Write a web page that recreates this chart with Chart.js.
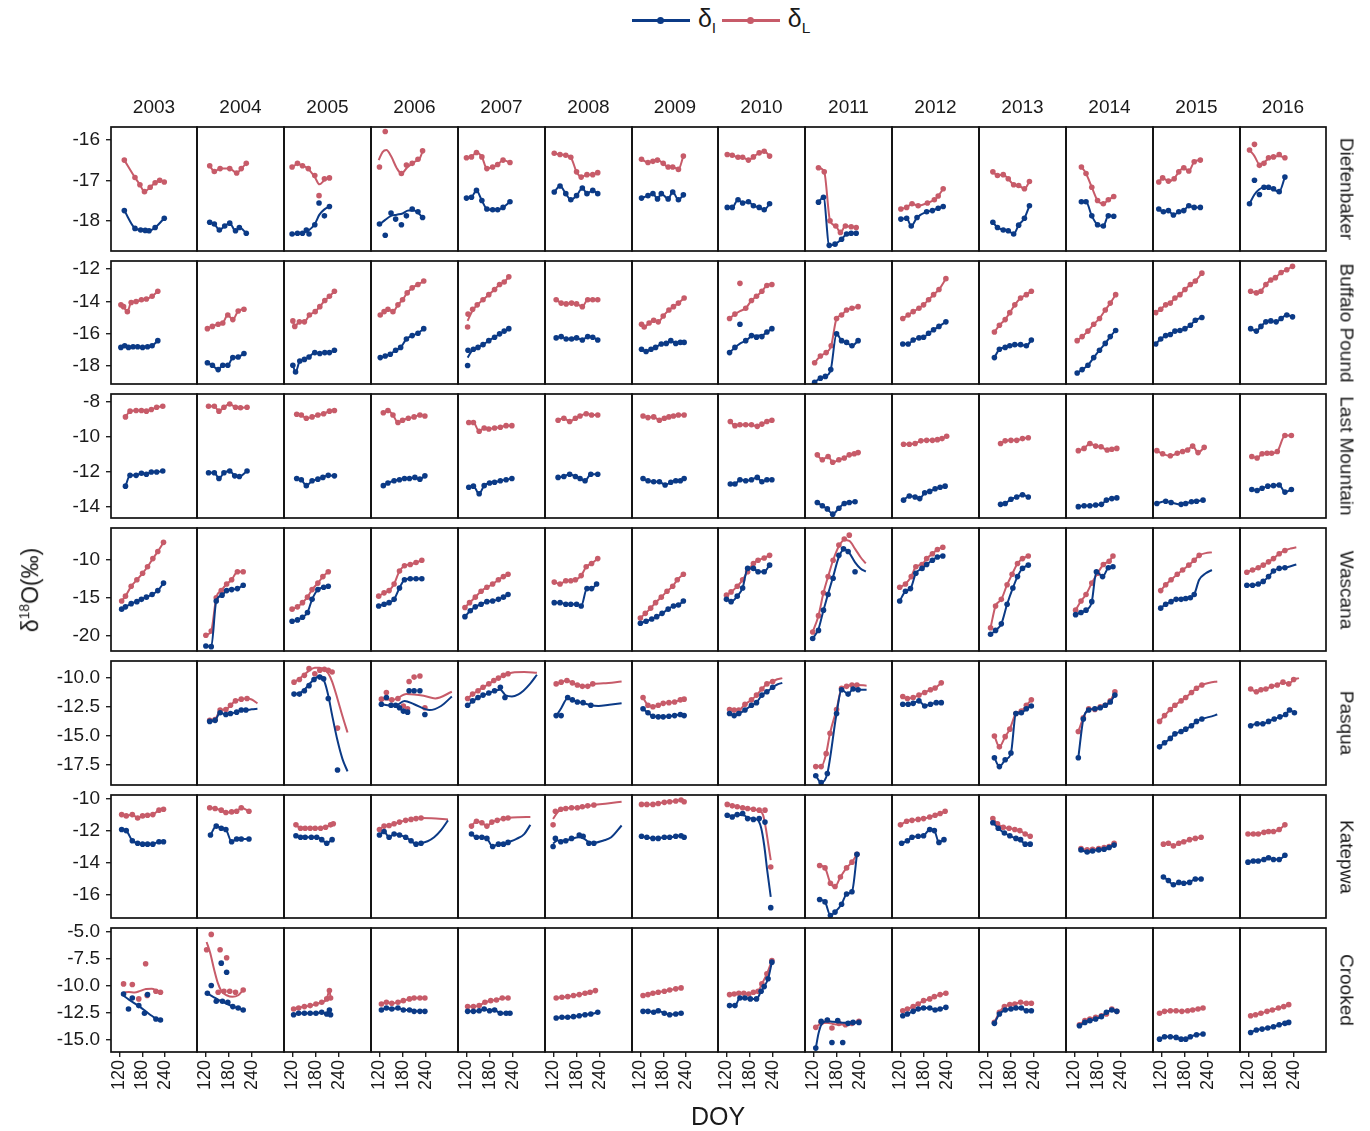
<!DOCTYPE html>
<html>
<head>
<meta charset="utf-8">
<script src="https://cdn.jsdelivr.net/npm/chart.js@4.4.1/dist/chart.umd.min.js"></script>
<style>
  body { margin: 0; background: #fff; font-family: "Liberation Sans", Arial, sans-serif; }
  #wrap { position: relative; width: 1370px; height: 1131px; overflow: hidden; }
  #wrap canvas { position: absolute; }
  .lab { position: absolute; color: #1a1a1a; white-space: nowrap; line-height: 1; }
</style>
</head>
<body>
<div id="wrap"></div>
<script>
// facets
const years = [2003, 2004, 2005, 2006, 2007, 2008, 2009, 2010, 2011, 2012, 2013, 2014, 2015, 2016];
const sites = ["Diefenbaker", "Buffalo Pound", "Last Mountain", "Wascana", "Pasqua", "Katepwa", "Crooked"];

// free y scales per lake (min, max) and tick labels
const yRanges = [[-18.75, -15.68], [-19.1, -11.5], [-14.63, -7.54], [-21.97, -5.92], [-19.24, -8.52], [-17.46, -9.75], [-16.1, -4.63]];
const yTickLabels = [
  ["-16", "-17", "-18"],
  ["-12", "-14", "-16", "-18"],
  ["-8", "-10", "-12", "-14"],
  ["-10", "-15", "-20"],
  ["-10.0", "-12.5", "-15.0", "-17.5"],
  ["-10", "-12", "-14", "-16"],
  ["-5.0", "-7.5", "-10.0", "-12.5", "-15.0"]
];
const xRange = [98, 324];
const xTickLabels = ["120", "180", "240"];

// [DOY, d18O] per year 2003..2016
const diefI = [
  [[133,-17.75],[161,-18.19],[176,-18.23],[188,-18.24],[198,-18.25],[214,-18.17],[238,-17.94]],
  [[131,-18.04],[143,-18.08],[156,-18.23],[170,-18.13],[183,-18.06],[198,-18.25],[208,-18.17],[226,-18.31]],
  [[119,-18.33],[133,-18.31],[146,-18.31],[156,-18.23],[163,-18.33],[178,-18.1],[189,-17.56],[203,-17.88],[216,-17.65]],
  [[120,-18.08],[135,-18.36],[150,-17.81],[162,-17.96],[177,-18.1],[190,-17.88],[205,-17.71],[220,-17.78],[232,-17.92]],
  [[120,-17.44],[133,-17.42],[146,-17.25],[160,-17.5],[173,-17.71],[188,-17.73],[201,-17.73],[215,-17.67],[233,-17.53]],
  [[122,-17.29],[137,-17.14],[152,-17.33],[165,-17.48],[180,-17.38],[195,-17.19],[207,-17.33],[222,-17.25],[235,-17.33]],
  [[123,-17.44],[140,-17.38],[153,-17.33],[165,-17.46],[175,-17.33],[193,-17.46],[205,-17.29],[220,-17.48],[233,-17.36]],
  [[122,-17.67],[135,-17.67],[150,-17.48],[162,-17.56],[177,-17.53],[190,-17.63],[205,-17.67],[218,-17.73],[232,-17.58]],
  [[133,-17.54],[146,-17.42],[161,-18.61],[176,-18.58],[193,-18.46],[206,-18.33],[218,-18.31],[231,-18.31]],
  [[121,-17.96],[136,-17.94],[148,-18.13],[163,-17.92],[188,-17.78],[203,-17.75],[218,-17.69],[231,-17.65]],
  [[134,-18.04],[146,-18.17],[161,-18.23],[174,-18.25],[188,-18.33],[201,-18.11],[216,-17.94],[229,-17.63]],
  [[138,-17.53],[150,-17.53],[165,-17.88],[180,-18.1],[195,-18.13],[208,-17.88],[222,-17.89]],
  [[113,-17.71],[125,-17.78],[138,-17.75],[151,-17.86],[165,-17.78],[178,-17.75],[191,-17.63],[205,-17.67],[221,-17.67]],
  [[123,-17.58],[136,-17.0],[149,-17.35],[161,-17.17],[173,-17.17],[186,-17.21],[201,-17.28],[216,-16.92]]
];
const diefL = [
  [[133,-16.5],[161,-16.93],[174,-17.11],[186,-17.28],[201,-17.17],[214,-17.06],[226,-17.0],[238,-17.04]],
  [[131,-16.64],[143,-16.78],[158,-16.71],[183,-16.71],[201,-16.82],[213,-16.71],[226,-16.58]],
  [[119,-16.67],[133,-16.58],[146,-16.64],[161,-16.71],[178,-16.88],[189,-17.38],[203,-16.96],[216,-16.94]],
  [[120,-16.67],[135,-15.79],[177,-16.83],[190,-16.62],[205,-16.58],[220,-16.48],[232,-16.27]],
  [[120,-16.44],[133,-16.42],[146,-16.31],[160,-16.42],[173,-16.71],[188,-16.67],[201,-16.61],[215,-16.5],[233,-16.56]],
  [[122,-16.33],[137,-16.36],[152,-16.38],[165,-16.43],[180,-16.79],[192,-16.92],[207,-16.86],[222,-16.86],[235,-16.81]],
  [[123,-16.48],[140,-16.56],[153,-16.53],[165,-16.5],[180,-16.58],[193,-16.67],[205,-16.67],[220,-16.73],[233,-16.4]],
  [[122,-16.36],[135,-16.38],[150,-16.43],[162,-16.43],[177,-16.5],[190,-16.42],[205,-16.32],[218,-16.28],[232,-16.4]],
  [[133,-16.69],[148,-16.79],[163,-18.0],[178,-18.13],[190,-18.29],[203,-18.13],[218,-18.15],[231,-18.17]],
  [[121,-17.71],[136,-17.67],[150,-17.58],[166,-17.63],[190,-17.56],[208,-17.48],[218,-17.39],[231,-17.21]],
  [[134,-16.79],[146,-16.88],[161,-16.86],[174,-16.96],[188,-17.11],[201,-17.13],[216,-17.21],[229,-17.03]],
  [[138,-16.67],[150,-16.83],[165,-17.17],[180,-17.5],[195,-17.58],[208,-17.48],[222,-17.4]],
  [[113,-17.04],[123,-16.94],[138,-17.02],[153,-16.96],[165,-16.79],[178,-16.69],[191,-16.77],[205,-16.54],[221,-16.5]],
  [[123,-16.25],[136,-16.11],[149,-16.63],[161,-16.58],[173,-16.44],[186,-16.42],[201,-16.36],[216,-16.44]]
];
const buffI = [
  [[124,-16.84],[134,-16.74],[144,-16.84],[156,-16.8],[168,-16.8],[181,-16.84],[194,-16.8],[206,-16.74],[221,-16.42]],
  [[125,-17.79],[138,-17.94],[153,-18.21],[165,-17.94],[178,-17.94],[191,-17.47],[205,-17.43],[220,-17.22]],
  [[121,-17.94],[128,-18.36],[139,-17.68],[151,-17.58],[163,-17.43],[178,-17.16],[191,-17.22],[204,-17.16],[216,-17.16],[229,-17.01]],
  [[122,-17.47],[135,-17.37],[148,-17.26],[162,-17.01],[175,-16.84],[190,-16.32],[205,-16.11],[220,-15.96],[235,-15.68]],
  [[123,-17.96],[124,-17.01],[138,-16.95],[150,-16.84],[163,-16.67],[178,-16.42],[193,-16.21],[206,-16.0],[218,-15.83],[230,-15.68]],
  [[127,-16.25],[140,-16.17],[153,-16.32],[167,-16.32],[180,-16.25],[195,-16.38],[209,-16.17],[222,-16.21],[235,-16.38]],
  [[123,-16.95],[135,-17.09],[148,-16.95],[160,-16.84],[175,-16.63],[188,-16.59],[200,-16.42],[213,-16.59],[225,-16.53],[235,-16.53]],
  [[128,-17.16],[142,-16.84],[155,-15.41],[170,-16.42],[185,-16.11],[198,-16.21],[212,-16.17],[225,-15.89],[238,-15.68]],
  [[123,-18.99],[138,-18.74],[151,-18.63],[165,-18.21],[180,-16.0],[193,-16.42],[206,-16.53],[220,-16.74],[236,-16.42]],
  [[126,-16.63],[140,-16.63],[153,-16.38],[168,-16.25],[180,-16.21],[193,-15.96],[206,-15.75],[220,-15.54],[238,-15.26]],
  [[138,-17.47],[151,-16.95],[166,-16.84],[178,-16.74],[191,-16.67],[206,-16.67],[221,-16.74],[234,-16.38]],
  [[127,-18.42],[140,-18.21],[155,-17.94],[170,-17.47],[185,-17.01],[200,-16.59],[213,-16.17],[227,-15.79]],
  [[105,-16.63],[118,-16.32],[131,-16.11],[143,-16.04],[155,-15.83],[168,-15.79],[181,-15.68],[195,-15.47],[208,-15.16],[225,-14.99]],
  [[126,-15.68],[141,-15.83],[153,-15.54],[166,-15.26],[179,-15.2],[193,-15.26],[206,-15.05],[221,-14.84],[236,-14.95]]
];
const buffL = [
  [[124,-14.21],[131,-14.32],[141,-14.63],[151,-14.06],[164,-14.0],[178,-13.89],[191,-13.85],[206,-13.68],[221,-13.37]],
  [[125,-15.68],[138,-15.54],[153,-15.41],[165,-15.33],[178,-14.84],[191,-15.12],[205,-14.59],[220,-14.48]],
  [[121,-15.2],[126,-15.54],[138,-15.26],[151,-15.26],[164,-14.84],[179,-14.63],[191,-14.32],[204,-13.94],[216,-13.68],[229,-13.37]],
  [[122,-14.84],[132,-14.63],[142,-14.48],[155,-14.63],[168,-14.21],[180,-13.89],[192,-13.47],[205,-13.16],[220,-12.95],[235,-12.74]],
  [[123,-15.58],[124,-14.78],[136,-14.48],[148,-14.21],[163,-13.89],[178,-13.58],[193,-13.26],[206,-12.95],[218,-12.8],[230,-12.48]],
  [[127,-13.89],[140,-14.1],[153,-14.15],[167,-14.1],[180,-14.15],[195,-14.32],[209,-13.89],[222,-13.89],[235,-13.89]],
  [[123,-15.41],[130,-15.58],[143,-15.33],[155,-15.16],[167,-15.26],[180,-14.9],[195,-14.53],[207,-14.32],[220,-14.1],[235,-13.79]],
  [[128,-15.05],[142,-14.78],[155,-12.88],[170,-14.42],[185,-13.94],[198,-13.68],[212,-13.37],[225,-13.01],[238,-12.95]],
  [[123,-17.79],[138,-17.37],[153,-17.16],[166,-16.74],[180,-15.05],[193,-14.84],[206,-14.53],[220,-14.42],[236,-14.32]],
  [[126,-15.05],[140,-14.84],[153,-14.63],[168,-14.42],[180,-14.21],[193,-13.89],[206,-13.58],[220,-13.26],[238,-12.59]],
  [[138,-15.89],[151,-15.47],[166,-15.12],[178,-14.69],[191,-14.21],[206,-13.79],[221,-13.58],[234,-13.37]],
  [[127,-16.42],[140,-16.17],[155,-15.83],[170,-15.41],[185,-15.05],[200,-14.53],[213,-14.1],[227,-13.58]],
  [[105,-14.69],[118,-14.48],[131,-14.21],[143,-14.1],[155,-13.79],[168,-13.58],[181,-13.26],[195,-12.95],[208,-12.74],[225,-12.25]],
  [[126,-13.37],[141,-13.47],[153,-13.37],[166,-12.95],[179,-12.67],[191,-12.53],[206,-12.21],[221,-12.04],[236,-11.83]]
];
const lastI = [
  [[136,-12.81],[148,-12.19],[164,-12.19],[178,-12.07],[191,-12.13],[204,-12.0],[218,-12.0],[234,-11.94]],
  [[128,-12.04],[143,-12.04],[155,-12.37],[168,-12.04],[183,-11.94],[196,-12.22],[208,-12.26],[228,-11.94]],
  [[131,-12.37],[143,-12.44],[156,-12.78],[171,-12.5],[186,-12.41],[199,-12.31],[213,-12.19],[229,-12.22]],
  [[130,-12.78],[142,-12.63],[158,-12.5],[172,-12.44],[185,-12.37],[198,-12.37],[212,-12.31],[225,-12.41],[238,-12.22]],
  [[126,-12.87],[138,-12.81],[153,-13.24],[166,-12.78],[180,-12.63],[193,-12.59],[208,-12.5],[223,-12.44],[238,-12.37]],
  [[132,-12.31],[147,-12.26],[162,-12.13],[177,-12.26],[189,-12.37],[202,-12.5],[217,-12.13],[235,-12.13]],
  [[127,-12.37],[140,-12.5],[155,-12.56],[170,-12.56],[185,-12.74],[200,-12.59],[213,-12.5],[225,-12.5],[235,-12.37]],
  [[130,-12.69],[142,-12.69],[155,-12.44],[170,-12.5],[185,-12.44],[200,-12.31],[212,-12.56],[225,-12.44],[238,-12.44]],
  [[130,-13.74],[143,-13.93],[156,-14.11],[170,-14.41],[186,-14.07],[200,-13.8],[213,-13.74],[228,-13.7]],
  [[128,-13.61],[143,-13.37],[158,-13.43],[170,-13.52],[183,-13.19],[196,-13.11],[210,-12.96],[223,-12.87],[236,-12.81]],
  [[154,-13.85],[166,-13.8],[181,-13.56],[196,-13.43],[211,-13.3],[226,-13.43]],
  [[130,-13.98],[145,-13.93],[160,-13.93],[175,-13.89],[190,-13.85],[203,-13.61],[217,-13.52],[230,-13.48]],
  [[108,-13.8],[131,-13.67],[145,-13.74],[171,-13.85],[183,-13.8],[198,-13.7],[211,-13.67],[228,-13.61]],
  [[129,-13.0],[143,-13.06],[156,-12.93],[171,-12.81],[186,-12.78],[201,-12.74],[216,-13.15],[233,-13.0]]
];
const lastL = [
  [[136,-8.85],[148,-8.52],[164,-8.48],[178,-8.48],[191,-8.52],[204,-8.43],[218,-8.3],[234,-8.24]],
  [[128,-8.24],[143,-8.24],[155,-8.52],[168,-8.3],[183,-8.11],[198,-8.3],[211,-8.33],[228,-8.3]],
  [[131,-8.7],[143,-8.74],[156,-8.93],[171,-8.85],[186,-8.74],[201,-8.67],[216,-8.52],[229,-8.48]],
  [[130,-8.61],[142,-8.48],[155,-8.74],[168,-9.17],[180,-9.04],[195,-8.93],[210,-8.85],[225,-8.74],[238,-8.8]],
  [[126,-9.17],[138,-9.17],[153,-9.67],[166,-9.48],[178,-9.54],[193,-9.48],[208,-9.44],[223,-9.35],[238,-9.35]],
  [[132,-9.04],[147,-8.93],[162,-9.11],[177,-8.93],[189,-8.8],[205,-8.67],[219,-8.74],[235,-8.74]],
  [[127,-8.8],[140,-8.89],[155,-8.85],[170,-9.04],[183,-8.93],[195,-8.85],[207,-8.8],[220,-8.74],[235,-8.74]],
  [[130,-9.11],[142,-9.35],[155,-9.3],[170,-9.3],[185,-9.3],[200,-9.39],[212,-9.26],[225,-9.11],[238,-9.04]],
  [[130,-11.02],[143,-11.3],[158,-11.11],[170,-11.44],[186,-11.3],[200,-11.2],[213,-11.02],[226,-10.96],[236,-10.89]],
  [[128,-10.41],[143,-10.41],[158,-10.37],[173,-10.22],[188,-10.19],[203,-10.19],[216,-10.15],[228,-10.09],[240,-9.96]],
  [[154,-10.37],[166,-10.22],[181,-10.19],[196,-10.19],[211,-10.09],[226,-10.04]],
  [[130,-10.78],[145,-10.65],[160,-10.37],[175,-10.52],[189,-10.56],[205,-10.74],[217,-10.7],[230,-10.65]],
  [[108,-10.78],[123,-10.96],[143,-11.07],[161,-10.93],[175,-10.83],[188,-10.74],[201,-10.52],[215,-10.89],[231,-10.59]],
  [[129,-11.11],[143,-11.2],[156,-10.96],[169,-10.93],[181,-10.93],[196,-10.83],[216,-9.91],[233,-9.91]]
];
const wascI = [
  [[126,-16.51],[136,-16.21],[151,-15.79],[166,-15.53],[178,-15.23],[191,-14.94],[206,-14.6],[221,-14.09],[236,-13.11]],
  [[121,-21.32],[135,-21.4],[148,-15.45],[163,-14.68],[175,-14.09],[188,-13.96],[203,-13.83],[218,-13.4]],
  [[119,-18.09],[133,-17.91],[146,-17.57],[159,-16.94],[171,-15.23],[186,-13.96],[201,-13.66],[213,-13.53]],
  [[118,-16.09],[132,-15.87],[145,-15.66],[158,-15.23],[172,-13.74],[185,-12.68],[200,-12.55],[215,-12.55],[230,-12.55]],
  [[116,-17.49],[130,-16.72],[143,-16.21],[158,-15.87],[173,-15.53],[188,-15.45],[203,-15.23],[216,-14.94],[228,-14.6]],
  [[122,-15.66],[137,-15.66],[152,-15.87],[165,-15.87],[180,-15.87],[192,-16.09],[207,-13.83],[219,-13.83],[232,-13.23]],
  [[120,-18.34],[135,-18.09],[150,-17.79],[163,-17.49],[177,-17.06],[193,-16.51],[207,-16.09],[220,-15.96],[233,-15.45]],
  [[120,-15.23],[132,-15.53],[148,-14.81],[162,-13.74],[175,-11.19],[190,-11.19],[202,-11.62],[218,-11.62],[232,-10.77]],
  [[118,-20.34],[133,-19.28],[146,-16.64],[158,-14.6],[171,-12.47],[186,-9.49],[198,-8.64],[210,-8.98],[228,-11.62]],
  [[118,-15.45],[133,-14.17],[146,-13.83],[160,-11.83],[176,-11.19],[188,-10.68],[203,-10.13],[216,-9.7],[230,-9.57]],
  [[128,-19.79],[141,-19.28],[156,-18.43],[171,-15.87],[186,-13.74],[198,-12.26],[211,-11.19],[226,-10.77]],
  [[123,-17.23],[137,-16.94],[150,-16.64],[165,-15.53],[177,-11.62],[193,-12.26],[208,-11.11],[220,-10.98]],
  [[118,-16.38],[131,-15.87],[145,-15.53],[158,-15.23],[171,-15.23],[183,-15.11],[195,-15.02],[205,-14.6]],
  [[116,-13.4],[131,-13.4],[146,-13.23],[159,-12.89],[173,-12.26],[186,-11.53],[201,-11.19],[216,-11.11]]
];
const wascL = [
  [[126,-15.45],[136,-14.81],[151,-13.53],[166,-12.68],[181,-11.83],[194,-10.98],[208,-9.91],[221,-8.98],[236,-7.79]],
  [[121,-19.91],[135,-19.36],[148,-15.02],[161,-14.09],[175,-13.23],[188,-12.68],[203,-11.62],[218,-11.62]],
  [[119,-16.51],[133,-16.21],[146,-15.66],[159,-14.94],[171,-13.96],[186,-13.11],[199,-12.26],[213,-11.62]],
  [[118,-14.81],[132,-14.38],[145,-14.09],[158,-13.23],[172,-11.53],[185,-10.85],[200,-10.68],[215,-10.43],[230,-10.13]],
  [[116,-16.3],[128,-15.66],[143,-14.94],[158,-14.17],[173,-13.66],[188,-13.23],[203,-12.68],[216,-12.26],[228,-11.96]],
  [[122,-12.98],[137,-13.23],[152,-12.81],[165,-12.81],[177,-12.68],[192,-12.13],[205,-10.98],[219,-10.55],[235,-9.91]],
  [[120,-17.66],[133,-17.06],[147,-16.38],[160,-15.66],[175,-14.94],[190,-14.17],[205,-13.53],[217,-12.68],[233,-11.96]],
  [[120,-14.68],[132,-14.26],[148,-13.53],[162,-12.68],[175,-11.62],[190,-10.55],[202,-10.13],[218,-9.83],[232,-9.49]],
  [[118,-19.49],[133,-17.36],[146,-14.38],[158,-12.26],[171,-10.13],[186,-8.13],[200,-7.36],[213,-6.85]],
  [[118,-13.66],[133,-13.23],[148,-12.26],[160,-10.98],[176,-10.68],[188,-9.91],[203,-9.28],[216,-8.72],[230,-8.43]],
  [[128,-18.94],[141,-16.09],[156,-15.23],[171,-13.32],[184,-11.96],[198,-10.55],[211,-9.91],[226,-9.57]],
  [[123,-16.64],[137,-15.45],[150,-14.6],[165,-13.11],[180,-11.83],[195,-10.68],[210,-10.26],[220,-9.57]],
  [[118,-14.09],[131,-13.32],[145,-12.68],[161,-11.96],[175,-11.4],[191,-10.77],[205,-10.13],[218,-9.49]],
  [[116,-11.7],[131,-11.4],[146,-11.11],[159,-10.77],[173,-10.34],[186,-9.91],[201,-9.28],[216,-8.85]]
];
const pasqI = [
  [],
  [[131,-13.74],[145,-13.65],[158,-13.0],[173,-13.15],[185,-13.06],[201,-12.94],[213,-12.76],[225,-12.76]],
  [[124,-11.38],[138,-11.38],[151,-11.09],[163,-10.65],[176,-10.12],[191,-9.91],[201,-10.06],[213,-11.76],[237,-17.94]],
  [[125,-12.26],[138,-11.68],[150,-12.35],[162,-12.35],[172,-12.56],[182,-12.85],[193,-12.94],[197,-11.09],[210,-11.09],[225,-11.09],[238,-13.15]],
  [[123,-12.35],[136,-11.97],[150,-11.68],[163,-11.47],[178,-11.29],[193,-11.09],[208,-10.79],[220,-11.68]],
  [[127,-13.24],[140,-13.24],[157,-11.68],[169,-11.88],[182,-12.06],[197,-12.12],[217,-12.35]],
  [[127,-12.65],[140,-13.0],[153,-13.29],[167,-13.35],[180,-13.35],[195,-13.29],[210,-13.24],[225,-13.15],[235,-13.24]],
  [[128,-13.06],[140,-13.24],[152,-13.06],[168,-12.76],[185,-12.35],[198,-12.12],[212,-11.47],[225,-11.18],[240,-10.79]],
  [[126,-18.44],[140,-19.03],[156,-18.24],[180,-13.06],[193,-11.0],[210,-11.38],[223,-10.94],[236,-11.0]],
  [[126,-12.26],[140,-12.26],[153,-12.18],[168,-11.97],[183,-12.41],[198,-12.26],[213,-12.12],[226,-12.12]],
  [[138,-16.88],[151,-17.65],[166,-17.06],[181,-16.47],[194,-13.06],[208,-13.0],[221,-12.65],[234,-12.41]],
  [[130,-16.88],[143,-13.53],[157,-12.76],[173,-12.65],[187,-12.56],[200,-12.35],[213,-12.06],[225,-11.47]],
  [[115,-15.94],[128,-15.59],[143,-15.21],[155,-14.82],[171,-14.62],[183,-14.41],[198,-14.12],[211,-13.74],[225,-13.53]],
  [[126,-14.12],[143,-13.94],[158,-13.94],[173,-13.74],[188,-13.53],[203,-13.35],[218,-13.15],[228,-12.76],[241,-13.0]]
];
const pasqL = [
  [],
  [[131,-13.65],[145,-13.59],[158,-12.76],[173,-12.71],[185,-12.35],[198,-11.97],[213,-11.82],[228,-11.76]],
  [[124,-10.35],[138,-10.12],[151,-9.76],[163,-9.18],[178,-9.62],[191,-9.32],[203,-9.24],[213,-9.32],[223,-9.47],[237,-14.32]],
  [[125,-11.82],[138,-11.24],[152,-11.88],[168,-11.76],[182,-12.41],[193,-12.65],[197,-10.29],[210,-9.91],[225,-9.82],[238,-12.56]],
  [[123,-11.76],[136,-11.38],[150,-11.09],[163,-10.79],[178,-10.5],[191,-10.21],[203,-10.0],[216,-9.76],[228,-9.62]],
  [[127,-10.5],[140,-10.35],[155,-10.21],[169,-10.41],[182,-10.59],[195,-10.71],[209,-10.71],[222,-10.5]],
  [[127,-11.68],[140,-12.35],[153,-12.47],[167,-12.35],[180,-12.18],[195,-12.12],[210,-12.06],[225,-11.88],[235,-11.82]],
  [[128,-12.71],[140,-12.76],[152,-12.76],[168,-12.26],[185,-11.88],[198,-11.47],[212,-10.94],[225,-10.5],[240,-10.29]],
  [[126,-17.65],[140,-17.65],[153,-16.53],[163,-14.76],[180,-12.71],[193,-10.88],[206,-10.71],[220,-10.59],[233,-10.59]],
  [[126,-11.59],[138,-11.76],[153,-11.68],[168,-11.47],[183,-11.24],[198,-11.0],[210,-10.85],[226,-10.41]],
  [[138,-15.0],[151,-15.94],[166,-15.06],[178,-14.41],[194,-13.06],[208,-12.85],[221,-12.35],[234,-11.88]],
  [[130,-14.62],[143,-13.44],[157,-12.65],[173,-12.71],[187,-12.47],[200,-12.35],[213,-11.97],[225,-11.18]],
  [[115,-13.74],[128,-13.24],[143,-12.71],[155,-12.35],[171,-11.97],[183,-11.68],[198,-11.24],[211,-10.88],[225,-10.59]],
  [[126,-10.94],[141,-11.18],[153,-11.0],[166,-10.94],[181,-10.71],[196,-10.59],[211,-10.35],[226,-10.5],[239,-10.12]]
];
const katI = [
  [[126,-11.91],[138,-11.98],[154,-12.62],[168,-12.77],[181,-12.83],[194,-12.83],[208,-12.83],[224,-12.68],[236,-12.68]],
  [[133,-12.26],[148,-11.7],[161,-11.83],[173,-11.91],[188,-12.68],[201,-12.51],[213,-12.51],[233,-12.51]],
  [[129,-12.3],[141,-12.4],[153,-12.4],[169,-12.4],[183,-12.4],[196,-12.55],[209,-12.77],[223,-12.55]],
  [[120,-12.26],[132,-12.04],[145,-12.4],[158,-12.19],[172,-12.26],[188,-12.4],[202,-12.62],[215,-12.83],[228,-12.77]],
  [[133,-12.19],[146,-12.4],[160,-12.4],[173,-12.47],[188,-12.98],[203,-12.83],[216,-12.83],[228,-12.72]],
  [[119,-12.98],[125,-12.47],[139,-12.68],[152,-12.62],[167,-12.47],[187,-12.26],[197,-12.34],[212,-12.77],[225,-12.77]],
  [[123,-12.34],[137,-12.4],[153,-12.47],[167,-12.47],[183,-12.4],[197,-12.4],[213,-12.34],[227,-12.3],[235,-12.4]],
  [[122,-11.02],[135,-11.13],[148,-10.98],[162,-10.91],[175,-11.23],[190,-11.28],[205,-11.23],[220,-11.45],[235,-16.81]],
  [[136,-16.3],[150,-16.45],[164,-17.3],[176,-17.09],[193,-16.6],[206,-15.96],[220,-15.81],[233,-13.47]],
  [[123,-12.77],[138,-12.62],[150,-12.4],[166,-12.34],[180,-12.3],[196,-11.91],[208,-11.98],[220,-12.72],[233,-12.55]],
  [[134,-11.49],[148,-11.83],[164,-12.13],[178,-12.3],[194,-12.47],[206,-12.55],[218,-12.83],[231,-12.83]],
  [[137,-13.19],[153,-13.32],[167,-13.26],[183,-13.19],[197,-13.15],[210,-13.04],[223,-12.89]],
  [[125,-14.89],[138,-15.11],[151,-15.38],[165,-15.23],[178,-15.28],[193,-15.23],[208,-15.02],[223,-15.02]],
  [[119,-13.96],[133,-13.89],[146,-13.89],[161,-13.79],[173,-13.68],[186,-13.79],[201,-13.79],[216,-13.53]]
];
const katL = [
  [[126,-10.98],[138,-11.06],[154,-10.98],[168,-11.19],[181,-11.06],[194,-11.02],[208,-10.98],[224,-10.7],[236,-10.64]],
  [[131,-10.55],[145,-10.6],[161,-10.7],[173,-10.85],[188,-10.81],[201,-10.77],[213,-10.55],[233,-10.77]],
  [[129,-11.62],[141,-11.83],[153,-11.83],[166,-11.83],[179,-11.83],[193,-11.83],[206,-11.77],[219,-11.62],[226,-11.55]],
  [[120,-11.91],[132,-11.7],[145,-11.66],[158,-11.55],[172,-11.45],[188,-11.34],[202,-11.28],[215,-11.23],[228,-11.19]],
  [[133,-11.7],[146,-11.4],[160,-11.49],[173,-11.7],[186,-11.45],[200,-11.34],[216,-11.23],[228,-11.19]],
  [[119,-11.62],[125,-10.77],[139,-10.64],[152,-10.6],[167,-10.55],[182,-10.55],[195,-10.49],[209,-10.43],[225,-10.38]],
  [[123,-10.34],[137,-10.34],[153,-10.34],[167,-10.28],[183,-10.21],[197,-10.17],[213,-10.13],[227,-10.06],[235,-10.17]],
  [[122,-10.34],[135,-10.43],[148,-10.49],[162,-10.55],[175,-10.6],[190,-10.64],[205,-10.7],[220,-10.7],[235,-14.26]],
  [[136,-14.17],[150,-14.32],[164,-15.28],[176,-15.49],[190,-14.89],[206,-14.32],[220,-13.96],[233,-13.47]],
  [[120,-11.62],[136,-11.4],[150,-11.34],[166,-11.28],[180,-11.23],[196,-11.13],[210,-11.02],[223,-10.91],[236,-10.77]],
  [[134,-11.23],[146,-11.55],[161,-11.77],[176,-11.83],[191,-11.91],[204,-11.98],[218,-12.19],[231,-12.34]],
  [[137,-13.11],[153,-13.19],[167,-13.15],[183,-13.11],[197,-13.04],[210,-12.98],[223,-12.77]],
  [[125,-12.83],[138,-12.77],[151,-12.94],[165,-12.77],[178,-12.68],[193,-12.55],[208,-12.47],[223,-12.4]],
  [[119,-12.19],[133,-12.19],[146,-12.19],[161,-12.09],[173,-12.04],[186,-12.04],[201,-11.91],[216,-11.62]]
];
const crookI = [
  [[131,-10.73],[144,-12.12],[154,-11.1],[171,-11.81],[186,-12.52],[194,-10.79],[216,-13.05],[228,-13.14]],
  [[125,-10.67],[135,-9.95],[148,-11.41],[161,-7.88],[164,-11.41],[175,-8.72],[178,-11.5],[191,-11.9],[205,-12.03],[218,-12.21]],
  [[123,-12.65],[136,-12.52],[151,-12.52],[166,-12.52],[181,-12.52],[196,-12.43],[209,-12.59],[216,-12.21],[219,-12.65]],
  [[125,-12.21],[138,-12.03],[152,-12.12],[168,-12.03],[182,-12.21],[198,-12.21],[210,-12.34],[225,-12.34],[238,-12.34]],
  [[123,-12.34],[138,-12.34],[153,-12.28],[166,-12.12],[180,-12.28],[193,-12.21],[208,-12.52],[223,-12.52],[233,-12.52]],
  [[127,-12.96],[142,-12.89],[157,-12.89],[172,-12.83],[187,-12.74],[202,-12.65],[217,-12.59],[235,-12.43]],
  [[127,-12.34],[140,-12.34],[155,-12.43],[167,-12.28],[183,-12.52],[197,-12.65],[213,-12.59],[227,-12.52]],
  [[128,-11.81],[142,-11.81],[155,-11.1],[168,-11.1],[182,-11.19],[198,-11.19],[210,-10.48],[218,-10.05],[228,-9.33],[238,-7.79]],
  [[126,-15.74],[140,-13.27],[156,-13.14],[168,-15.22],[183,-13.2],[196,-15.22],[210,-13.45],[223,-13.36],[238,-13.36]],
  [[126,-12.74],[138,-12.59],[153,-12.34],[166,-12.12],[180,-12.03],[196,-12.03],[210,-12.21],[223,-12.12],[238,-11.97]],
  [[138,-13.45],[151,-12.59],[166,-12.21],[181,-12.12],[194,-12.03],[208,-12.03],[221,-12.28],[234,-12.28]],
  [[133,-13.67],[147,-13.36],[160,-13.2],[175,-13.05],[190,-12.83],[203,-12.43],[217,-12.21],[230,-12.34]],
  [[115,-14.91],[128,-14.69],[143,-14.69],[158,-14.75],[171,-14.91],[183,-14.91],[195,-14.69],[211,-14.5],[228,-14.44]],
  [[126,-14.29],[141,-14.07],[156,-13.98],[171,-13.88],[186,-13.76],[201,-13.58],[216,-13.45],[226,-13.36]]
];
const crookL = [
  [[131,-9.8],[154,-9.86],[171,-11.19],[189,-7.94],[193,-10.88],[216,-10.48],[228,-10.57]],
  [[123,-6.64],[135,-5.22],[153,-10.57],[158,-6.64],[168,-10.48],[175,-7.38],[183,-10.48],[198,-10.57],[218,-10.36]],
  [[123,-12.12],[136,-12.03],[151,-11.9],[166,-11.81],[181,-11.66],[196,-11.5],[209,-11.19],[216,-10.42],[219,-11.1]],
  [[125,-11.66],[138,-11.5],[152,-11.59],[168,-11.5],[182,-11.35],[198,-11.19],[210,-11.1],[225,-11.1],[238,-11.1]],
  [[123,-11.9],[138,-11.9],[153,-11.81],[168,-11.5],[183,-11.35],[198,-11.29],[213,-11.1],[228,-11.1]],
  [[127,-11.1],[142,-11.04],[157,-10.98],[172,-10.88],[187,-10.79],[202,-10.67],[215,-10.57],[229,-10.42]],
  [[127,-10.88],[140,-10.79],[153,-10.67],[167,-10.57],[183,-10.48],[197,-10.36],[213,-10.26],[227,-10.17]],
  [[128,-10.79],[140,-10.73],[152,-10.67],[165,-10.67],[178,-10.73],[190,-10.57],[202,-10.48],[212,-9.8],[225,-8.87],[238,-7.63]],
  [[126,-13.82],[140,-13.36],[156,-13.2],[168,-13.88],[186,-13.45],[203,-13.58],[220,-13.45],[238,-13.27]],
  [[126,-12.28],[138,-12.12],[153,-11.9],[166,-11.66],[180,-11.35],[196,-11.19],[208,-10.98],[223,-10.79],[238,-10.67]],
  [[138,-13.36],[151,-12.43],[164,-11.9],[178,-11.72],[191,-11.66],[206,-11.5],[221,-11.59],[234,-11.59]],
  [[133,-13.58],[147,-13.2],[160,-13.05],[175,-12.89],[190,-12.74],[203,-12.59],[217,-12.12],[230,-12.34]],
  [[115,-12.52],[128,-12.34],[143,-12.28],[158,-12.28],[173,-12.34],[188,-12.28],[201,-12.21],[215,-12.12],[228,-12.03]],
  [[126,-12.74],[139,-12.65],[153,-12.52],[169,-12.34],[183,-12.21],[199,-12.03],[213,-11.9],[226,-11.72]]
];

// smoothed curves that differ from the points: "line" replaces, "tail" extends
const fitLines = [
  ["Diefenbaker", 2005, "L", "line", [[119,-16.67],[133,-16.6],[146,-16.63],[161,-16.72],[178,-16.92],[190,-17.1],[203,-17.0],[216,-16.94]]],
  ["Diefenbaker", 2005, "I", "line", [[119,-18.33],[133,-18.32],[146,-18.3],[161,-18.25],[178,-18.08],[190,-17.85],[203,-17.72],[216,-17.65]]],
  ["Diefenbaker", 2006, "L", "line", [[118,-16.5],[128,-16.3],[138,-16.25],[150,-16.4],[165,-16.7],[177,-16.83],[192,-16.68],[210,-16.55],[225,-16.45],[232,-16.28]]],
  ["Diefenbaker", 2006, "I", "line", [[120,-18.1],[135,-17.98],[150,-17.88],[165,-17.85],[180,-17.82],[195,-17.75],[210,-17.75],[222,-17.82],[232,-17.92]]],
  ["Diefenbaker", 2016, "I", "line", [[123,-17.58],[136,-17.35],[149,-17.22],[161,-17.18],[173,-17.2],[186,-17.23],[201,-17.28],[216,-16.92]]],
  ["Diefenbaker", 2016, "L", "line", [[123,-16.25],[136,-16.4],[149,-16.6],[161,-16.56],[173,-16.46],[186,-16.42],[201,-16.4],[216,-16.44]]],
  ["Buffalo Pound", 2007, "L", "line", [[123,-15.2],[136,-14.55],[148,-14.21],[163,-13.89],[178,-13.58],[193,-13.26],[206,-12.95],[218,-12.8],[230,-12.48]]],
  ["Buffalo Pound", 2007, "I", "line", [[123,-17.47],[136,-16.98],[148,-16.84],[163,-16.67],[178,-16.42],[193,-16.21],[206,-16.0],[218,-15.83],[230,-15.68]]],
  ["Buffalo Pound", 2010, "L", "line", [[128,-15.05],[142,-14.78],[155,-14.6],[170,-14.42],[185,-13.94],[198,-13.68],[212,-13.37],[225,-13.01],[238,-12.95]]],
  ["Buffalo Pound", 2010, "I", "line", [[128,-17.16],[142,-16.84],[155,-16.6],[170,-16.42],[185,-16.15],[198,-16.1],[212,-16.1],[225,-15.89],[238,-15.68]]],
  ["Wascana", 2011, "L", "line", [[118,-19.49],[133,-17.36],[146,-14.38],[158,-12.26],[171,-10.13],[186,-8.3],[200,-7.5],[213,-7.6],[228,-8.64],[242,-9.7],[256,-10.55]]],
  ["Wascana", 2011, "I", "line", [[118,-20.34],[133,-19.1],[146,-16.64],[158,-14.5],[171,-12.3],[186,-9.7],[200,-8.7],[212,-9.1],[228,-10.4],[242,-11.2],[256,-11.62]]],
  ["Wascana", 2015, "I", "tail", [[218,-12.68],[235,-11.83],[251,-11.4]]],
  ["Wascana", 2015, "L", "tail", [[235,-9.2],[251,-9.1]]],
  ["Wascana", 2016, "I", "tail", [[231,-10.9],[246,-10.68]]],
  ["Wascana", 2016, "L", "tail", [[231,-8.6],[246,-8.43]]],
  ["Pasqua", 2004, "I", "tail", [[240,-12.7],[255,-12.65]]],
  ["Pasqua", 2004, "L", "tail", [[240,-11.85],[255,-12.18]]],
  ["Pasqua", 2005, "L", "line", [[124,-10.35],[138,-10.05],[151,-9.7],[163,-9.35],[178,-9.1],[191,-9.1],[203,-9.3],[213,-9.6],[223,-10.3],[237,-11.8],[250,-13.3],[263,-14.7]]],
  ["Pasqua", 2005, "I", "line", [[124,-11.38],[138,-11.3],[151,-11.0],[163,-10.55],[178,-10.05],[191,-9.8],[203,-10.3],[213,-11.5],[223,-13.2],[237,-15.4],[250,-17.0],[263,-18.06]]],
  ["Pasqua", 2006, "L", "line", [[125,-11.82],[155,-11.88],[190,-11.38],[235,-11.53],[265,-11.76],[308,-11.18]]],
  ["Pasqua", 2006, "I", "line", [[125,-12.26],[160,-12.41],[185,-11.97],[210,-12.26],[250,-12.76],[280,-12.41],[308,-11.59]]],
  ["Pasqua", 2007, "I", "line", [[123,-12.35],[136,-12.0],[150,-11.7],[163,-11.5],[178,-11.3],[193,-11.1],[208,-11.0],[222,-11.5],[238,-11.59],[255,-11.4],[268,-11.09],[285,-10.5],[303,-9.71]]],
  ["Pasqua", 2007, "L", "tail", [[245,-9.5],[270,-9.47],[303,-9.53]]],
  ["Pasqua", 2008, "I", "line", [[127,-13.3],[140,-12.6],[157,-11.75],[169,-11.9],[182,-12.05],[197,-12.15],[217,-12.35],[237,-12.41],[265,-12.3],[297,-12.18]]],
  ["Pasqua", 2008, "L", "tail", [[250,-10.45],[297,-10.29]]],
  ["Pasqua", 2010, "I", "tail", [[252,-10.55],[265,-10.41]]],
  ["Pasqua", 2010, "L", "tail", [[252,-10.1],[265,-10.0]]],
  ["Pasqua", 2011, "I", "tail", [[258,-11.0]]],
  ["Pasqua", 2011, "L", "tail", [[258,-10.65]]],
  ["Pasqua", 2015, "I", "tail", [[245,-13.35],[265,-13.15]]],
  ["Pasqua", 2015, "L", "tail", [[245,-10.4],[265,-10.29]]],
  ["Pasqua", 2016, "L", "tail", [[253,-10.0]]],
  ["Katepwa", 2006, "I", "tail", [[245,-12.65],[262,-12.4],[280,-11.95],[298,-11.34]]],
  ["Katepwa", 2006, "L", "tail", [[255,-11.2],[298,-11.28]]],
  ["Katepwa", 2007, "I", "tail", [[250,-12.5],[270,-12.2],[286,-11.62]]],
  ["Katepwa", 2007, "L", "tail", [[255,-11.15],[286,-11.13]]],
  ["Katepwa", 2008, "L", "line", [[119,-11.25],[130,-10.85],[139,-10.68],[152,-10.6],[167,-10.55],[182,-10.54],[195,-10.5],[209,-10.44],[225,-10.38],[260,-10.28],[297,-10.17]]],
  ["Katepwa", 2008, "I", "line", [[119,-12.8],[130,-12.6],[139,-12.62],[152,-12.6],[167,-12.5],[185,-12.4],[200,-12.5],[212,-12.7],[225,-12.75],[250,-12.6],[270,-12.4],[297,-11.66]]],
  ["Katepwa", 2010, "L", "line", [[122,-10.34],[135,-10.42],[148,-10.48],[162,-10.55],[175,-10.6],[190,-10.64],[205,-10.75],[215,-11.0],[222,-11.8],[229,-12.9],[235,-13.83]]],
  ["Katepwa", 2010, "I", "line", [[122,-11.02],[135,-11.05],[148,-11.0],[162,-11.0],[175,-11.15],[190,-11.25],[200,-11.3],[210,-11.8],[218,-12.9],[226,-14.5],[235,-16.13]]],
  ["Crooked", 2003, "L", "line", [[131,-10.6],[145,-10.55],[160,-10.6],[175,-10.45],[190,-10.27],[205,-10.25],[218,-10.4],[231,-10.6]]],
  ["Crooked", 2003, "I", "line", [[131,-10.9],[145,-11.25],[160,-11.6],[175,-11.95],[190,-12.35],[205,-12.75],[218,-13.05],[228,-13.15]]],
  ["Crooked", 2004, "L", "line", [[123,-5.93],[132,-6.9],[142,-8.4],[152,-9.7],[162,-10.5],[175,-10.85],[190,-11.0],[205,-10.85],[218,-10.36]]],
  ["Crooked", 2004, "I", "line", [[125,-10.7],[140,-11.0],[155,-11.3],[170,-11.55],[185,-11.8],[200,-12.0],[218,-12.24]]],
  ["Crooked", 2011, "L", "line", [[126,-13.75],[140,-13.5],[156,-13.4],[170,-13.5],[186,-13.55],[203,-13.55],[220,-13.45],[238,-13.3]]],
  ["Crooked", 2011, "I", "line", [[126,-15.74],[133,-14.4],[140,-13.6],[156,-13.25],[170,-13.3],[185,-13.35],[200,-13.4],[215,-13.4],[238,-13.36]]]
];

const seriesI = [diefI, buffI, lastI, wascI, pasqI, katI, crookI];
const seriesL = [diefL, buffL, lastL, wascL, pasqL, katL, crookL];

const BLUE = "#0b3a86";
const PINK = "#c75b69";
const FONT = "'Liberation Sans', Arial, sans-serif";

// panel geometry
const PX0 = 110.5, PW = 86.85, PY0 = 127, PH = 133.5, PANEL_H = 123.5;
const P = 22, YW = 66, XH = 46;

const wrap = document.getElementById("wrap");

function xy(arr) {
  return arr.map(p => ({ x: p[0], y: p[1] })).sort((a, b) => a.x - b.x);
}

function curveFor(site, year, key, pts) {
  const f = fitLines.find(e => e[0] === site && e[1] === year && e[2] === key);
  if (!f) return pts;
  return f[3] === "tail" ? pts.concat(f[4]) : f[4];
}

const panelBorder = {
  id: "panelBorder",
  afterDraw(chart) {
    const { ctx, chartArea: a } = chart;
    ctx.save();
    ctx.strokeStyle = "#111";
    ctx.lineWidth = 1.7;
    ctx.strokeRect(a.left, a.top, a.right - a.left, a.bottom - a.top);
    ctx.restore();
  }
};

function addLabel(html, cx, cy, size, rot) {
  const d = document.createElement("div");
  d.className = "lab";
  d.innerHTML = html;
  d.style.fontSize = size + "px";
  d.style.left = cx + "px";
  d.style.top = cy + "px";
  d.style.transform = "translate(-50%,-50%)" + (rot ? " rotate(" + rot + "deg)" : "");
  wrap.appendChild(d);
}

sites.forEach((site, r) => {
  years.forEach((year, c) => {
    const L = Math.round(PX0 + c * PW), R = Math.round(PX0 + (c + 1) * PW);
    const T = Math.round(PY0 + r * PH), B = Math.round(PY0 + r * PH + PANEL_H);
    const showY = c === 0, showX = r === sites.length - 1;
    const cw = (R - L) + 2 * P + (showY ? YW : 0);
    const ch = (B - T) + 2 * P + (showX ? XH : 0);

    const cv = document.createElement("canvas");
    cv.width = cw; cv.height = ch;
    cv.style.width = cw + "px"; cv.style.height = ch + "px";
    cv.style.left = (L - P - (showY ? YW : 0)) + "px";
    cv.style.top = (T - P) + "px";
    wrap.appendChild(cv);

    const ptsI = seriesI[r][c], ptsL = seriesL[r][c];
    const lineDs = (pts, color) => ({
      data: xy(pts), showLine: true, borderColor: color, borderWidth: 2,
      pointRadius: 0, cubicInterpolationMode: "monotone", fill: false
    });
    const dotDs = (pts, color) => ({
      data: xy(pts), showLine: false, pointRadius: 2.8, pointBorderWidth: 0,
      pointBackgroundColor: color, backgroundColor: color
    });

    const datasets = [
      dotDs(ptsI, BLUE),
      lineDs(curveFor(site, year, "I", ptsI), BLUE),
      dotDs(ptsL, PINK),
      lineDs(curveFor(site, year, "L", ptsL), PINK)
    ];

    new Chart(cv, {
      type: "scatter",
      data: { datasets },
      plugins: [panelBorder],
      options: {
        responsive: false,
        maintainAspectRatio: false,
        animation: false,
        events: [],
        layout: { padding: P },
        plugins: { legend: { display: false }, tooltip: { enabled: false } },
        scales: {
          x: {
            type: "linear", min: xRange[0], max: xRange[1], display: showX,
            afterBuildTicks: ax => { ax.ticks = xTickLabels.map(s => ({ value: parseFloat(s) })); },
            afterFit: ax => { ax.height = showX ? XH : 0; },
            ticks: {
              autoSkip: false, minRotation: 90, maxRotation: 90, padding: 3,
              color: "#1a1a1a", font: { family: FONT, size: 18 },
              callback: (v, i) => xTickLabels[i]
            },
            grid: { drawOnChartArea: false, drawTicks: true, tickLength: 5, color: "#222", lineWidth: 1.4 },
            border: { display: false }
          },
          y: {
            type: "linear", min: yRanges[r][0], max: yRanges[r][1], display: showY,
            afterBuildTicks: ax => { ax.ticks = yTickLabels[r].map(s => ({ value: parseFloat(s) })); },
            afterFit: ax => { ax.width = showY ? YW : 0; },
            ticks: {
              autoSkip: false, padding: 6,
              color: "#1a1a1a", font: { family: FONT, size: 19 },
              callback: (v, i) => yTickLabels[r][i]
            },
            grid: { drawOnChartArea: false, drawTicks: true, tickLength: 5, color: "#222", lineWidth: 1.4 },
            border: { display: false }
          }
        }
      }
    });

    if (r === 0) addLabel(String(year), (L + R) / 2, 106, 19);
    if (c === years.length - 1) addLabel(site, 1347, (T + B) / 2, 19, 90);
  });
});

// axis titles
addLabel("DOY", 718, 1116, 25);
addLabel("&delta;<sup style='font-size:60%'>18</sup>O(&permil;)", 30, 590, 23, -90);

// legend
function legendKey(x, color) {
  const ln = document.createElement("div");
  ln.style.cssText = "position:absolute;left:" + x + "px;top:19px;width:58px;height:2.6px;background:" + color;
  const dot = document.createElement("div");
  dot.style.cssText = "position:absolute;left:" + (x + 25) + "px;top:16.5px;width:7px;height:7px;border-radius:50%;background:" + color;
  wrap.appendChild(ln); wrap.appendChild(dot);
}
legendKey(632, BLUE);
legendKey(722, PINK);
addLabel("&delta;<sub style='font-size:62%'>I</sub>", 707, 21, 25);
addLabel("&delta;<sub style='font-size:62%'>L</sub>", 799, 21, 25);
</script>
</body>
</html>
